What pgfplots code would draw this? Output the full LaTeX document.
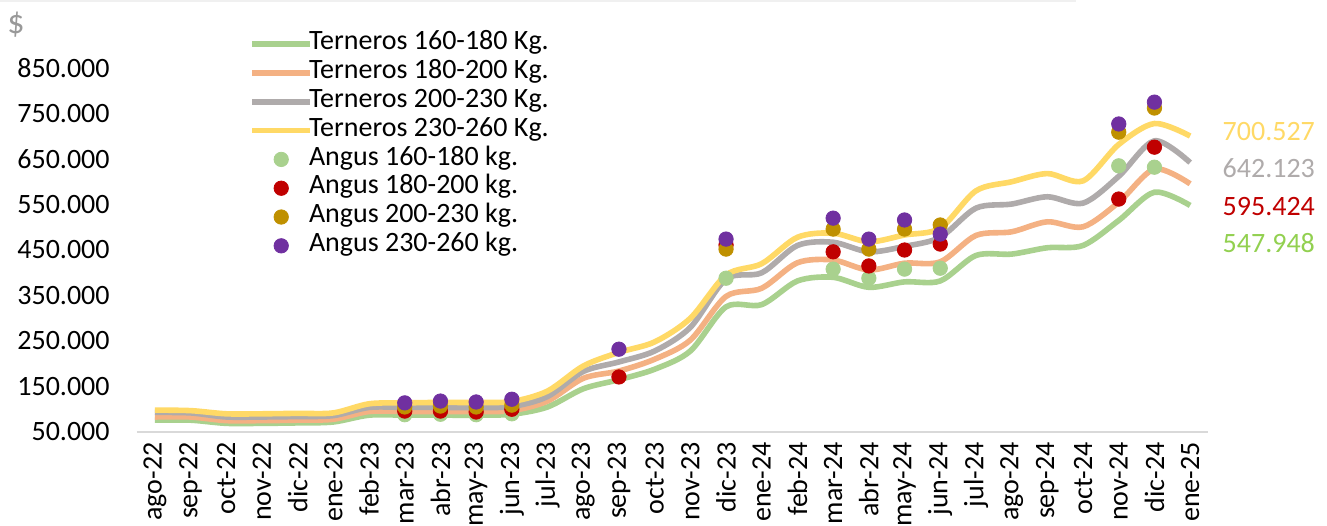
\documentclass[border=0pt]{standalone}
\usepackage{pgfplots}
\pgfplotsset{compat=1.18}
\usepackage{fontspec}
\setmainfont{Carlito}

\definecolor{lgreen}{HTML}{A9D18E}
\definecolor{lorange}{HTML}{F4B183}
\definecolor{lgrey}{HTML}{AFABAB}
\definecolor{lyellow}{HTML}{FFD966}
\definecolor{pred}{HTML}{C00000}
\definecolor{pgold}{HTML}{BF9000}
\definecolor{ppurple}{HTML}{7030A0}
\definecolor{tgreen}{HTML}{92D050}

% precios terneros (lineas)
\pgfplotstableread{
x  t160   t180   t200   t230
0  76000  83000  93000  98000
1  76000  83000  92000  97000
2  69000  75000  83000  90000
3  69000  75000  83000  90000
4  70000  76000  84000  91000
5  72000  78000  86000  92000
6  87000  95000  104000 112000
7  87000  95000  104000 114000
8  87000  95000  104000 115000
9  87000  95000  104000 115000
10 89000  97000  106000 117000
11 105000 118000 128000 140000
12 145000 168000 183000 195000
13 165000 184000 204000 225000
14 188000 210000 228000 248000
15 228000 252000 280000 300000
16 325000 348000 386000 395000
17 330000 366000 400000 420000
18 382000 422000 460000 478000
19 390000 428000 467000 487000
20 368000 406000 446000 468000
21 380000 421000 458000 483000
22 382000 424000 478000 498000
23 438000 482000 542000 580000
24 441000 490000 551000 600000
25 455000 512000 567000 618000
26 460000 501000 553000 602000
27 515000 555000 612000 682000
28 577000 628000 690000 728000
29 547948 595424 642123 700527
}\terneros

% precios angus (puntos)
\pgfplotstableread{
x  a160   a180   a200   a230
7  88000  96000  105000 114000
8  89000  96000  107000 118000
9  88000  94000  105000 116000
10 90000  100000 109000 122000
13 nan    171000 nan    232000
16 388000 461000 452000 474000
19 408000 446000 496000 520000
20 388000 415000 452000 474000
21 408000 450000 496000 516000
22 410000 463000 505000 485000
27 635000 562000 709000 727000
28 632000 676000 762000 775000
}\angus

\pgfplotsset{
    linea/.style={smooth, mark=none, line width=2.8pt,
        legend image code/.code={\draw[##1] (0pt,0pt) -- (29pt,0pt);}},
    punto/.style={only marks, mark=*, mark size=3.6pt, unbounded coords=discard,
        legend image code/.code={\path[draw=none] (0pt,0pt) -- (29pt,0pt);
            \draw[##1] plot coordinates {(14.5pt,0pt)};}},
}

\begin{document}
\begin{tikzpicture}
\path[use as bounding box] (-68.5pt,-46.5pt) rectangle (595pt,216pt);
\draw[color=black!6, line width=1pt] (-68.5pt,215.5pt) -- (469.5pt,215.5pt);
\begin{axis}[
    at={(0,0)}, anchor=south west,
    scale only axis, width=535.5pt, height=182pt,
    xmin=-0.5, xmax=29.5,
    ymin=50000, ymax=850000,
    clip=false,
    axis x line=bottom, axis y line=left,
    x axis line style={draw=black!15, line width=1pt, -},
    y axis line style={draw=none},
    xtick={0,...,29},
    xticklabels={ago-22,sep-22,oct-22,nov-22,dic-22,ene-23,feb-23,mar-23,abr-23,may-23,jun-23,jul-23,ago-23,sep-23,oct-23,nov-23,dic-23,ene-24,feb-24,mar-24,abr-24,may-24,jun-24,jul-24,ago-24,sep-24,oct-24,nov-24,dic-24,ene-25},
    ytick={50000,150000,...,850000},
    scaled y ticks=false,
    major tick length=0pt,
    tick style={draw=none},
    /pgf/number format/.cd, fixed, 1000 sep={.}, assume math mode=true,
    /pgfplots/.cd,
    tick label style={font=\fontsize{14}{17}\selectfont, text=black},
    xticklabel style={rotate=90, anchor=east, inner xsep=5pt, inner ysep=0pt},
    yticklabel style={anchor=east, inner sep=0pt, xshift=-13.5pt},
    legend style={at={(0.1046,1.106)}, anchor=north west, draw=none, fill=none,
        inner sep=0pt, font=\fontsize{14}{17}\selectfont,
        cells={anchor=west}, row sep=0pt, column sep=-2pt,
        nodes={inner sep=0pt, text height=10pt, text depth=4.4pt}},
]
\addplot[linea, lgreen] table[x=x, y=t160] {\terneros};
\addlegendentry{Terneros 160-180 Kg.}
\addplot[linea, lorange] table[x=x, y=t180] {\terneros};
\addlegendentry{Terneros 180-200 Kg.}
\addplot[linea, lgrey] table[x=x, y=t200] {\terneros};
\addlegendentry{Terneros 200-230 Kg.}
\addplot[linea, lyellow] table[x=x, y=t230] {\terneros};
\addlegendentry{Terneros 230-260 Kg.}

\addplot[punto, color=lgreen] table[x=x, y=a160] {\angus};
\addlegendentry{Angus 160-180 kg.}
\addplot[punto, color=pred] table[x=x, y=a180] {\angus};
\addlegendentry{Angus 180-200 kg.}
\addplot[punto, color=pgold] table[x=x, y=a200] {\angus};
\addlegendentry{Angus 200-230 kg.}
\addplot[punto, color=ppurple] table[x=x, y=a230] {\angus};
\addlegendentry{Angus 230-260 kg.}

\node[anchor=west, inner sep=0pt, text=lyellow, font=\fontsize{14}{17}\selectfont] at (axis cs:29.9,709400) {700.527};
\node[anchor=west, inner sep=0pt, text=lgrey, font=\fontsize{14}{17}\selectfont] at (axis cs:29.9,630000) {642.123};
\node[anchor=west, inner sep=0pt, text=pred, font=\fontsize{14}{17}\selectfont] at (axis cs:29.9,544600) {595.424};
\node[anchor=west, inner sep=0pt, text=tgreen, font=\fontsize{14}{17}\selectfont] at (axis cs:29.9,465400) {547.948};
\node[inner sep=0pt, text=black!40, font=\fontsize{17}{20}\selectfont] at (axis cs:-3.89,944600) {\$};
\end{axis}
\end{tikzpicture}
\end{document}
